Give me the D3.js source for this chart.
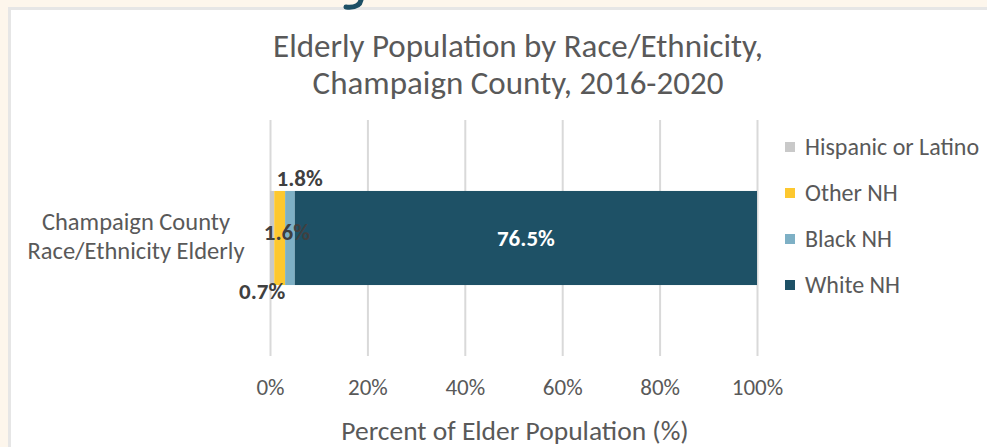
<!DOCTYPE html>
<html>
<head>
<meta charset="utf-8">
<script src="https://cdn.jsdelivr.net/npm/d3@7"></script>
<style>
  html, body { margin: 0; padding: 0; background: #fdf6ec; }
  svg { display: block; font-family: Carlito, Lato, "Open Sans", sans-serif; }
</style>
</head>
<body>
<div id="main"></div>
<script>
// chart data
const categories = ['Champaign County Race/Ethnicity Elderly'];
const seriesNames = ['Hispanic or Latino', 'Other NH', 'Black NH', 'White NH'];
const seriesValues = [0.7, 1.8, 1.6, 76.5];      // percent labels shown on the bars
const tickValues = [0, 0.2, 0.4, 0.6, 0.8, 1];
const colors = ['#c9c9c9', '#fdc82f', '#7eb0c5', '#1e5166'];

const w = 987;
const h = 447;

const svg = d3.select('#main')
    .append('svg')
    .attr('width', w)
    .attr('height', h);

// white chart panel with soft edge //
svg.append('rect')
    .attr('x', 8).attr('y', 7)
    .attr('width', w).attr('height', h)
    .attr('fill', '#e6e6e6');
svg.append('rect')
    .attr('x', 11).attr('y', 10)
    .attr('width', w).attr('height', h)
    .attr('fill', '#ffffff');

// tail of the page heading peeking above the panel
svg.append('path')
    .attr('d', 'M361,0 C360,5 356,8 346,7')
    .attr('fill', 'none')
    .attr('stroke', '#1d4f64')
    .attr('stroke-width', 5)
    .attr('stroke-linecap', 'round');

// title
const title = svg.append('text')
    .attr('text-anchor', 'middle')
    .attr('fill', '#595959')
    .style('font-size', '33px');
title.append('tspan').attr('x', 518).attr('y', 57).text('Elderly Population by Race/Ethnicity,');
title.append('tspan').attr('x', 518).attr('y', 94).text('Champaign County, 2016-2020');

// scales //
const x = d3.scaleLinear()
    .domain([0, 1])
    .range([270, 757]);

const y = d3.scaleBand()
    .domain(categories)
    .range([120, 356])
    .padding(0.43);

const row = {};
seriesNames.forEach((s, i) => row[s] = seriesValues[i]);
row.category = categories[0];

const stack = d3.stack()
    .keys(seriesNames)
    .offset(d3.stackOffsetExpand);     // 100% stacked bar
const layers = stack([row]);

// gridlines via axis
const grid = d3.axisBottom(x)
    .tickValues(tickValues)
    .tickSize(-(356 - 120))
    .tickFormat('');
svg.append('g')
    .attr('transform', 'translate(0,356)')
    .call(grid)
    .call(g => g.select('.domain').remove())
    .call(g => g.selectAll('line').attr('stroke', '#d9d9d9').attr('stroke-width', 2));

// tick labels
const xAxis = d3.axisBottom(x)
    .tickValues(tickValues)
    .tickFormat(d3.format('.0%'))
    .tickSize(0)
    .tickPadding(0);
svg.append('g')
    .attr('transform', 'translate(0,379)')
    .call(xAxis)
    .call(g => g.select('.domain').remove())
    .call(g => g.selectAll('text')
        .attr('fill', '#595959')
        .style('font-family', 'Carlito, Lato, sans-serif')
        .style('font-size', '23px'));

// axis title
svg.append('text')
    .attr('x', 515).attr('y', 440)
    .attr('text-anchor', 'middle')
    .attr('fill', '#595959')
    .style('font-size', '27.5px')
    .text('Percent of Elder Population (%)');

// category label, two centred lines
const cat = svg.append('text')
    .attr('text-anchor', 'middle')
    .attr('fill', '#595959')
    .style('font-size', '24.5px');
cat.append('tspan').attr('x', 136).attr('y', 230).text('Champaign County');
cat.append('tspan').attr('x', 136).attr('y', 259).text('Race/Ethnicity Elderly');

// bars //
svg.append('g')
    .selectAll('rect')
    .data(layers)
    .enter()
    .append('rect')
    .attr('x', d => x(d[0][0]))
    .attr('y', y(categories[0]))
    .attr('width', d => x(d[0][1]) - x(d[0][0]))
    .attr('height', y.bandwidth())
    .attr('fill', (d, i) => colors[i]);

// data labels - small ones were dragged off the bar in the original
const labelShift = [
    { dx: -10, dy: 53 },    // 0.7% below
    { dx: 20, dy: -60 },    // 1.8% above
    { dx: -3, dy: -6 },     // 1.6% middle
    { dx: 0, dy: 0 }
];
svg.append('g')
    .selectAll('text')
    .data(layers)
    .enter()
    .append('text')
    .attr('x', (d, i) => (x(d[0][0]) + x(d[0][1])) / 2 + labelShift[i].dx)
    .attr('y', (d, i) => y(categories[0]) + y.bandwidth() / 2 + 8 + labelShift[i].dy)
    .attr('text-anchor', 'middle')
    .attr('fill', (d, i) => i === 3 ? '#ffffff' : '#404040')
    .style('font-size', '23px')
    .style('font-weight', 'bold')
    .text((d, i) => d3.format('.1f')(seriesValues[i]) + '%');

// legend //
const legend = svg.append('g')
    .selectAll('g')
    .data(seriesNames)
    .enter()
    .append('g')
    .attr('transform', (d, i) => `translate(785,${147 + i * 46})`);
legend.append('rect')
    .attr('x', 0).attr('y', -5)
    .attr('width', 10).attr('height', 10)
    .attr('fill', (d, i) => colors[i]);
legend.append('text')
    .attr('x', 20).attr('y', 8)
    .attr('fill', '#595959')
    .style('font-size', '24px')
    .text(d => d);
</script>
</body>
</html>
